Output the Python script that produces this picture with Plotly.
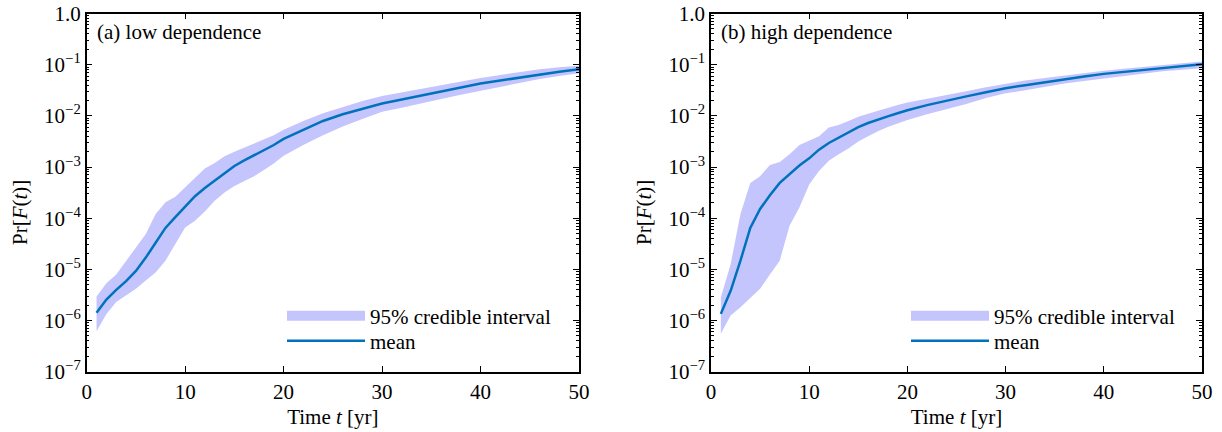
import plotly.graph_objects as go

# ---------------- data (log10 of probability) ----------------
t = [1, 2, 3, 4, 5, 6, 7, 8, 9, 10, 11, 12, 13, 14, 15, 16, 17, 18, 19, 20,
     22, 24, 26, 28, 30, 32, 34, 36, 38, 40, 42, 44, 46, 48, 50]

# (a) low dependence
mean_a_log = [-5.85, -5.59, -5.40, -5.23, -5.03, -4.77, -4.48, -4.19, -3.98, -3.77,
              -3.57, -3.41, -3.27, -3.13, -2.98, -2.87, -2.77, -2.67, -2.57, -2.45,
              -2.27, -2.10, -1.97, -1.86, -1.76, -1.68, -1.60, -1.52, -1.44, -1.37,
              -1.31, -1.25, -1.19, -1.14, -1.09]
upper_a_log = [-5.53, -5.27, -5.10, -4.83, -4.57, -4.31, -3.92, -3.69, -3.58, -3.39,
               -3.21, -3.03, -2.92, -2.79, -2.70, -2.62, -2.54, -2.46, -2.38, -2.27,
               -2.10, -1.95, -1.83, -1.71, -1.61, -1.54, -1.46, -1.39, -1.32, -1.26,
               -1.20, -1.14, -1.09, -1.05, -1.02]
lower_a_log = [-6.21, -5.87, -5.64, -5.51, -5.38, -5.22, -5.06, -4.83, -4.51, -4.18,
               -4.05, -3.87, -3.66, -3.50, -3.37, -3.27, -3.18, -3.06, -2.93, -2.78,
               -2.57, -2.38, -2.21, -2.06, -1.92, -1.84, -1.75, -1.67, -1.59, -1.51,
               -1.43, -1.35, -1.28, -1.22, -1.17]

# (b) high dependence
mean_b_log = [-5.87, -5.42, -4.83, -4.19, -3.82, -3.55, -3.31, -3.13, -2.97, -2.83,
              -2.66, -2.53, -2.43, -2.33, -2.22, -2.14, -2.07, -2.01, -1.95, -1.89,
              -1.79, -1.70, -1.62, -1.54, -1.46, -1.40, -1.34, -1.28, -1.23, -1.18,
              -1.14, -1.10, -1.06, -1.03, -0.99]
upper_b_log = [-5.55, -4.90, -3.92, -3.31, -3.18, -2.96, -2.90, -2.75, -2.57, -2.49,
               -2.40, -2.23, -2.18, -2.10, -2.02, -1.96, -1.90, -1.84, -1.79, -1.74,
               -1.67, -1.60, -1.52, -1.44, -1.37, -1.31, -1.26, -1.21, -1.16, -1.12,
               -1.08, -1.04, -1.00, -0.97, -0.94]
lower_b_log = [-6.26, -5.90, -5.74, -5.55, -5.38, -5.10, -4.83, -4.15, -3.79, -3.34,
               -3.08, -2.88, -2.75, -2.64, -2.50, -2.40, -2.30, -2.22, -2.15, -2.08,
               -1.97, -1.87, -1.77, -1.65, -1.56, -1.50, -1.43, -1.37, -1.32, -1.27,
               -1.22, -1.17, -1.13, -1.10, -1.07]

y_tickvals = [1e-7, 1e-6, 1e-5, 1e-4, 1e-3, 1e-2, 1e-1, 1.0]
y_ticktext = ["10<sup>\u22127</sup>", "10<sup>\u22126</sup>", "10<sup>\u22125</sup>",
              "10<sup>\u22124</sup>", "10<sup>\u22123</sup>", "10<sup>\u22122</sup>",
              "10<sup>\u22121</sup>", "1.0"]
x_tickvals = [0, 10, 20, 30, 40, 50]
panel_titles = ["(a) low dependence", "(b) high dependence"]
x_title = "Time <i>t</i> [yr]"
y_title = "Pr[<i>F</i>(<i>t</i>)]"
band_name = "95% credible interval"
mean_name = "mean"

# ---------------- style ----------------
W, H = 1222, 432
FONT = "Liberation Serif"
FS = 21
BAND = "#c5c5fd"
LINE = "#0072bd"

def tv(v):
    return [10 ** x for x in v]

fig = go.Figure()

panels = [
    (mean_a_log, upper_a_log, lower_a_log, "x", "y", "legend", "legend3"),
    (mean_b_log, upper_b_log, lower_b_log, "x2", "y2", "legend2", "legend4"),
]
for mean_l, up_l, lo_l, xa, ya, lg_band, lg_mean in panels:
    fig.add_trace(go.Scatter(x=t, y=tv(lo_l), mode="lines", line=dict(width=0, color=BAND),
                             showlegend=False, hoverinfo="skip", xaxis=xa, yaxis=ya))
    fig.add_trace(go.Scatter(x=t, y=tv(up_l), mode="lines", line=dict(width=0, color=BAND),
                             fill="tonexty", fillcolor=BAND, showlegend=False,
                             xaxis=xa, yaxis=ya))
    # legend entry for the band (wide swatch)
    fig.add_trace(go.Scatter(x=[None], y=[None], mode="lines", name=band_name,
                             line=dict(width=19, color=BAND), legend=lg_band,
                             xaxis=xa, yaxis=ya))
    fig.add_trace(go.Scatter(x=t, y=tv(mean_l), mode="lines", name=mean_name,
                             line=dict(width=2.5, color=LINE), legend=lg_mean,
                             xaxis=xa, yaxis=ya))

minor_vals = [k * 10.0 ** e for e in range(-7, 0) for k in range(2, 10)]

xdoms = [[86.7 / W, 579 / W], [711 / W, 1202 / W]]
ydom = [1 - 371.7 / H, 1 - 13.5 / H]

common_ax = dict(showline=True, linecolor="black", linewidth=1.5, mirror="ticks",
                 ticks="inside", ticklen=6, tickwidth=1.2, tickcolor="black",
                 showgrid=False, zeroline=False, automargin=False,
                 tickfont=dict(family=FONT, size=FS, color="black"))

layout = dict(width=W, height=H, margin=dict(l=0, r=0, t=0, b=0),
              paper_bgcolor="white", plot_bgcolor="white",
              font=dict(family=FONT, size=FS, color="black"))

for i, (xn, yn) in enumerate([("xaxis", "yaxis"), ("xaxis2", "yaxis2")]):
    layout[xn] = dict(common_ax, domain=xdoms[i], range=[0, 50], tickvals=x_tickvals,
                      anchor="y" if i == 0 else "y2",
                      title=dict(text=x_title, standoff=7,
                                 font=dict(family=FONT, size=FS)))
    layout[yn] = dict(common_ax, domain=ydom, type="log", range=[-7, 0],
                      tickvals=y_tickvals, ticktext=y_ticktext,
                      anchor="x" if i == 0 else "x2",
                      minor=dict(ticks="inside", ticklen=3, tickwidth=1, tickcolor="black",
                                 tickvals=minor_vals, showgrid=False))

legend_common = dict(font=dict(family=FONT, size=FS, color="black"), bgcolor="rgba(0,0,0,0)",
                     itemwidth=78, tracegroupgap=0, yanchor="middle", xanchor="left",
                     traceorder="normal", itemclick=False, itemdoubleclick=False)
layout["legend"] = dict(legend_common, x=282 / W, y=1 - 316 / H)
layout["legend3"] = dict(legend_common, x=282 / W, y=1 - 341 / H)
layout["legend2"] = dict(legend_common, x=906 / W, y=1 - 316 / H)
layout["legend4"] = dict(legend_common, x=906 / W, y=1 - 341 / H)

ann_font = dict(family=FONT, size=FS, color="black")
layout["annotations"] = [
    dict(text=panel_titles[0], x=95 / W, y=1 - 32 / H, xref="paper", yref="paper",
         xanchor="left", yanchor="middle", showarrow=False, font=ann_font),
    dict(text=panel_titles[1], x=719 / W, y=1 - 32 / H, xref="paper", yref="paper",
         xanchor="left", yanchor="middle", showarrow=False, font=ann_font),
    dict(text=y_title, x=20 / W, y=1 - 213 / H, xref="paper", yref="paper",
         xanchor="center", yanchor="middle", textangle=-90, showarrow=False, font=ann_font),
    dict(text=y_title, x=644 / W, y=1 - 213 / H, xref="paper", yref="paper",
         xanchor="center", yanchor="middle", textangle=-90, showarrow=False, font=ann_font),
]

fig.update_layout(**layout)
fig.write_html("out.html")
